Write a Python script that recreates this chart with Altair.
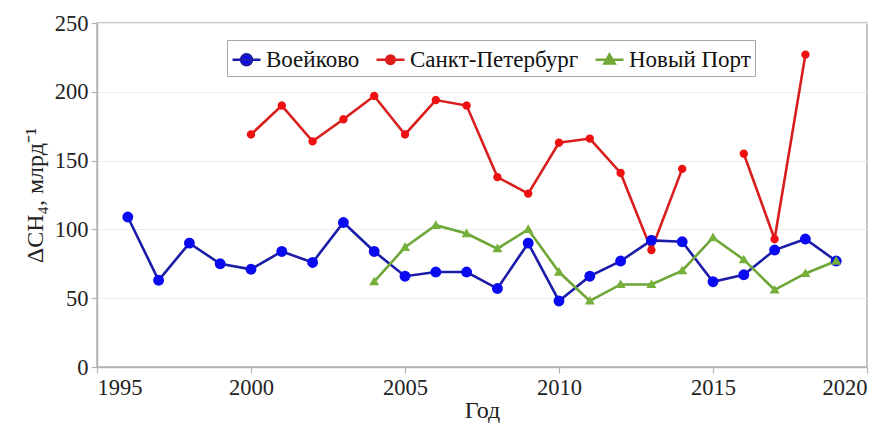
import math
import altair as alt
import pandas as pd

series_names = ["Воейково", "Санкт-Петербург", "Новый Порт"]
line_colors = ["#1c1ca8", "#d91e1e", "#6ea637"]
marker_colors = ["#0a0af0", "#ee1111", "#74b03a"]

years_voeikovo = list(range(1996, 2020))
voeikovo = [109, 63, 90, 75, 71, 84, 76, 105, 84, 66, 69, 69, 57, 90, 48, 66, 77, 92, 91, 62, 67, 85, 93, 77]

years_spb = list(range(2000, 2019))
spb = [169, 190, 164, 180, 197, 169, 194, 190, 138, 126, 163, 166, 141, 85, 144, None, 155, 93, 227]

years_np = list(range(2004, 2020))
novy_port = [62, 87, 103, 97, 86, 100, 69, 48, 60, 60, 70, 94, 78, 56, 68, 77]

x_ticks = [1995, 2000, 2005, 2010, 2015, 2020]
y_ticks = [0, 50, 100, 150, 200, 250]


def poly_circle(r, n=16):
    pts = [(r * math.cos(2 * math.pi * k / n), r * math.sin(2 * math.pi * k / n)) for k in range(n)]
    return "M" + "L".join(f"{x:.3f},{y:.3f}" for x, y in pts) + "Z"


# marker shapes: line segment (stroke only, visible in legend) + filled marker
shape_paths = [
    "M-1,0L1,0" + poly_circle(0.39),
    "M-1,0L1,0" + poly_circle(0.30),
    "M-1,0L1,0M0,-0.36L0.36,0.26L-0.36,0.26Z",
]

rows = []
for name, yrs, vals in [
    (series_names[0], years_voeikovo, voeikovo),
    (series_names[1], years_spb, spb),
    (series_names[2], years_np, novy_port),
]:
    seg = 0
    for y, v in zip(yrs, vals):
        if v is None:
            seg += 1
            continue
        rows.append({"year": y, "value": v, "series": name, "segment": f"{name}-{seg}"})
df = pd.DataFrame(rows)

font = "Liberation Serif, Times New Roman, serif"

x_scale = alt.Scale(domain=[1995, 2020], nice=False, zero=False)
y_scale = alt.Scale(domain=[0, 250], nice=False)

leg = alt.Legend(
    title=None,
    orient="none",
    legendX=130,
    legendY=17,
    direction="horizontal",
    symbolSize=784,
    symbolStrokeWidth=2.6,
    labelFont=font,
    labelFontSize=23,
    labelColor="#111",
    labelLimit=400,
    labelOffset=4,
    columnPadding=11,
    padding=4,
    strokeColor="#a8a8a8",
    fillColor="white",
)

base = alt.Chart(df)

lines = base.mark_line(strokeWidth=2.6).encode(
    x=alt.X("year:Q", scale=x_scale,
            axis=alt.Axis(values=x_ticks, format="d", title="Год", grid=False)),
    y=alt.Y("value:Q", scale=y_scale,
            axis=alt.Axis(values=y_ticks, title="ΔCH₄, млрд⁻¹", grid=True)),
    stroke=alt.Stroke("series:N", scale=alt.Scale(domain=series_names, range=line_colors), legend=leg),
    detail="segment:N",
)

points = base.mark_point(filled=True, size=784, opacity=1, strokeWidth=0).encode(
    x=alt.X("year:Q", scale=x_scale),
    y=alt.Y("value:Q", scale=y_scale),
    color=alt.Color("series:N", scale=alt.Scale(domain=series_names, range=marker_colors), legend=leg),
    shape=alt.Shape("series:N", scale=alt.Scale(domain=series_names, range=shape_paths), legend=leg),
)

chart = (
    alt.layer(lines, points)
    .properties(
        width=770,
        height=344,
        autosize=alt.AutoSizeParams(type="none"),
        padding={"left": 89, "top": 15, "right": 16, "bottom": 60},
    )
    .configure_view(stroke="#b4b4b4", strokeWidth=1.5)
    .configure_axis(
        labelFont=font,
        labelFontSize=22.5,
        labelColor="#222",
        titleFont=font,
        titleFontSize=24,
        titleFontWeight="normal",
        titleColor="#222",
        domainColor="#b4b4b4",
        domainWidth=1.5,
        tickColor="#b4b4b4",
        tickSize=6,
        tickWidth=1.2,
        gridColor="#ececec",
        gridWidth=1,
        labelPadding=3,
    )
    .configure_axisY(titlePadding=7)
    .configure_axisX(titlePadding=0)
)

chart.save("out.html", embed_options={"renderer": "svg", "actions": False})
